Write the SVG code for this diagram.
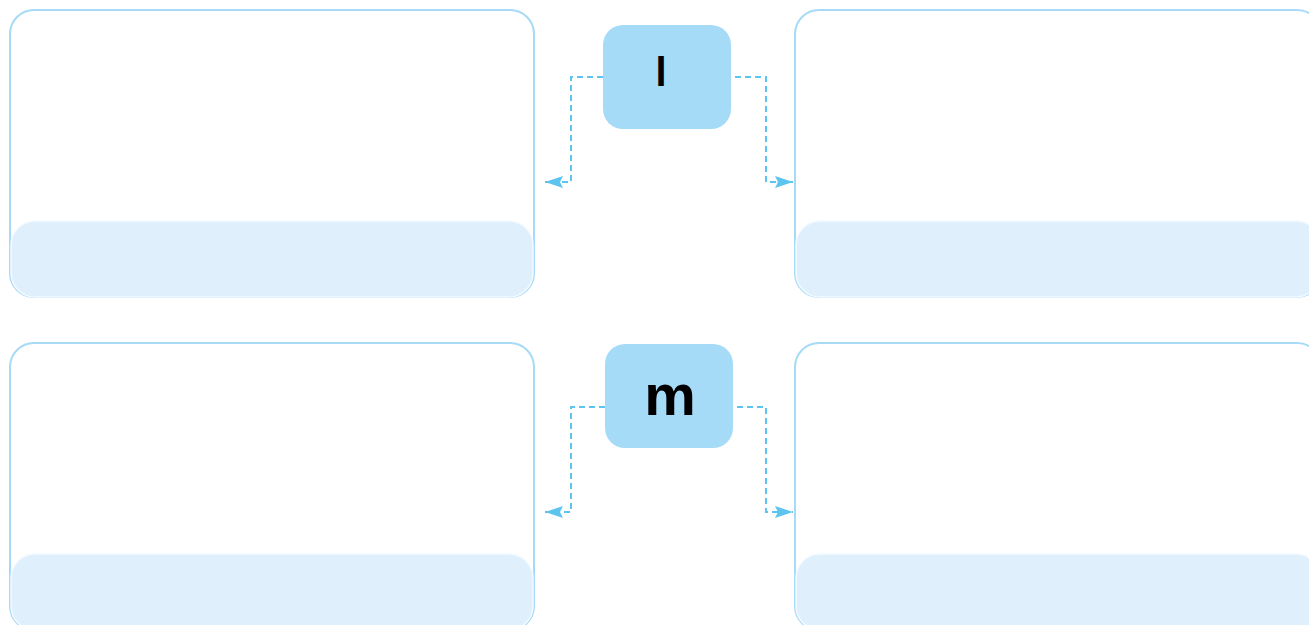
<svg xmlns="http://www.w3.org/2000/svg" width="1309" height="625" viewBox="0 0 1309 625">
<style>
.card{fill:#ffffff;stroke:#a6daf6;stroke-width:2}
.foot{fill:#dff0fc;stroke:#f4faff;stroke-width:1.5}
.node{fill:#a6dbf8}
.lbl{font-family:"Liberation Sans",Arial,sans-serif;font-weight:bold;fill:#000;text-anchor:middle}
.conn{fill:none;stroke:#5cc4ee;stroke-width:2;stroke-dasharray:6 4}
</style>
<defs>
<marker id="arr" viewBox="0 0 18 12" refX="18" refY="6" markerWidth="18" markerHeight="12" markerUnits="userSpaceOnUse" orient="auto">
<path d="M0,0 L18,6 L0,12 L3,6 Z" fill="#5cc4ee"/>
</marker>
</defs>
<g id="card-tl">
<rect class="card" x="10" y="10" width="524" height="287" rx="24"/>
<rect class="foot" x="11" y="221" width="522" height="76" rx="24"/>
</g>
<g id="card-tr">
<rect class="card" x="795" y="10" width="526" height="287" rx="24"/>
<rect class="foot" x="796" y="221" width="524" height="76" rx="24"/>
</g>
<g id="card-bl">
<rect class="card" x="10" y="343" width="524" height="287" rx="24"/>
<rect class="foot" x="11" y="554" width="522" height="76" rx="24"/>
</g>
<g id="card-br">
<rect class="card" x="795" y="343" width="526" height="287" rx="24"/>
<rect class="foot" x="796" y="554" width="524" height="76" rx="24"/>
</g>
<g id="connectors">
<path class="conn" d="M603,77 H571 V182 H545" marker-end="url(#arr)"/>
<path class="conn" d="M735,77 H766 V182 H793" marker-end="url(#arr)"/>
<path class="conn" d="M605,407 H571 V512 H545" marker-end="url(#arr)"/>
<path class="conn" d="M737,407 H766 V512 H793" marker-end="url(#arr)"/>
</g>
<g id="node-l">
<rect class="node" x="603" y="25" width="128" height="104" rx="20"/>
<text class="lbl" x="661" y="86" font-size="40">l</text>
</g>
<g id="node-m">
<rect class="node" x="605" y="344" width="128" height="104" rx="20"/>
<text class="lbl" x="670" y="415" font-size="58">m</text>
</g>
</svg>
